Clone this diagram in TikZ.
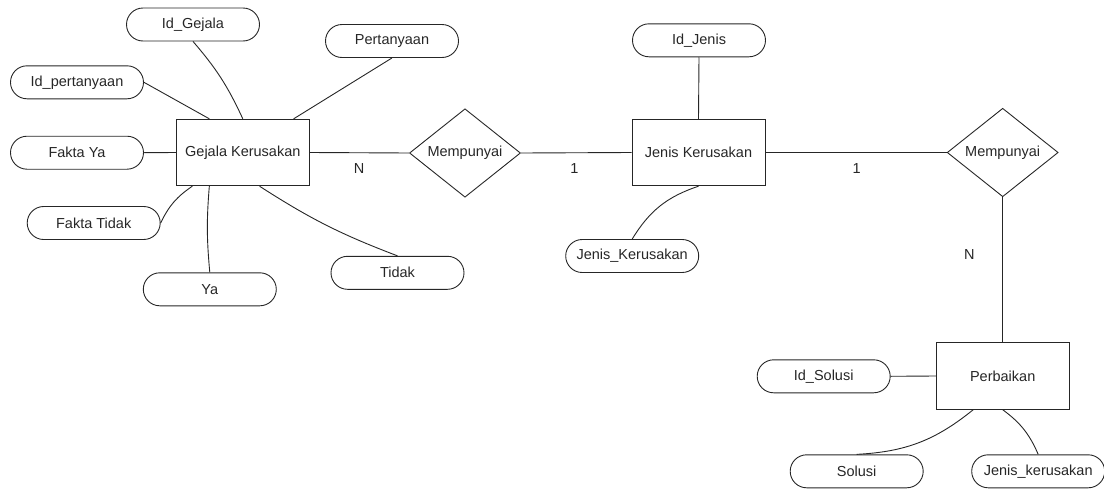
\documentclass[tikz,border=0pt]{standalone}
\usepackage{fontspec}
\setmainfont{Liberation Sans}
\usetikzlibrary{shapes.geometric,calc}
\begin{document}
\begin{tikzpicture}[x=1pt,y=-1pt,
  every node/.style={font=\fontsize{14.5}{17}\selectfont, text=black!85},
  conn/.style={draw=black!85, line width=0.9pt},
  attr/.style={conn, rounded corners=16.5pt, minimum width=133pt, minimum height=33pt, inner sep=0pt},
  ent/.style={conn, minimum width=133pt, minimum height=66.5pt, inner sep=0pt},
  rel/.style={conn, diamond, minimum width=111pt, minimum height=83pt, inner sep=0pt},
  card/.style={inner sep=0pt}]
\useasboundingbox (0,0) rectangle (1104,490);

% entities
\node[ent] (gk) at (242.8,152.5) {Gejala Kerusakan};
\node[ent] (jk) at (698.5,152.5) {Jenis Kerusakan};
\node[ent] (pb) at (1002.7,376) {Perbaikan};

% relationships
\node[rel] (r1) at (465,153) {Mempunyai};
\node[rel] (r2) at (1002.7,152.5) {Mempunyai};

% attributes of Gejala Kerusakan
\node[attr] (idg) at (193,24.5) {Id\_Gejala};
\node[attr] (per) at (392,41) {Pertanyaan};
\node[attr] (idp) at (77,82.3) {Id\_pertanyaan};
\node[attr] (fy)  at (77,152.7) {Fakta Ya};
\node[attr] (ft)  at (93.7,223) {Fakta Tidak};
\node[attr] (ya)  at (209.8,289.3) {Ya};
\node[attr] (td)  at (397.5,272.8) {Tidak};

% attributes of Jenis Kerusakan
\node[attr] (idj) at (699,40.3) {Id\_Jenis};
\node[attr] (jka) at (632.2,256) {Jenis\_Kerusakan};

% attributes of Perbaikan
\node[attr] (ids) at (823.7,376.3) {Id\_Solusi};
\node[attr] (sol) at (856.7,471.3) {Solusi};
\node[attr] (jkb) at (1038.2,471.3) {Jenis\_kerusakan};

% cardinalities
\node[card] (c1) at (359,169) {N};
\node[card] (c2) at (574.3,169) {1};
\node[card] (c3) at (856.7,169) {1};
\node[card] (c4) at (969.3,255) {N};

% attribute links
\draw[conn] (idg.south) to[bend left=8] ($(gk.north west)!0.5!(gk.north east)$);
\draw[conn] (idp.east) -- ($(gk.north west)!0.25!(gk.north east)$);
\draw[conn] (per.south) -- ($(gk.north west)!0.88!(gk.north east)$);
\draw[conn] (fy.east) -- (gk.west);
\draw[conn] (ft.east) to[bend left=15] ($(gk.south west)!0.123!(gk.south east)$);
\draw[conn] (ya.north) to[bend left=5] ($(gk.south west)!0.25!(gk.south east)$);
\draw[conn] (td.north) to[bend left=6] ($(gk.south west)!0.625!(gk.south east)$);

\draw[conn] (idj.south) -- (jk.north);
\draw[conn] (jka.north) to[bend left=20] (jk.south);

\draw[conn] (ids.east) -- (pb.west);
\draw[conn] (sol.north) to[bend right=18] ($(pb.south west)!0.28!(pb.south east)$);
\draw[conn] (jkb.north) to[bend right=15] (pb.south);

% relationship links
\draw[conn] (gk.east) -- (r1.west);
\draw[conn] (r1.east) -- (jk.west);
\draw[conn] (jk.east) -- (r2.west);
\draw[conn] (r2.south) -- (pb.north);
\end{tikzpicture}
\end{document}
